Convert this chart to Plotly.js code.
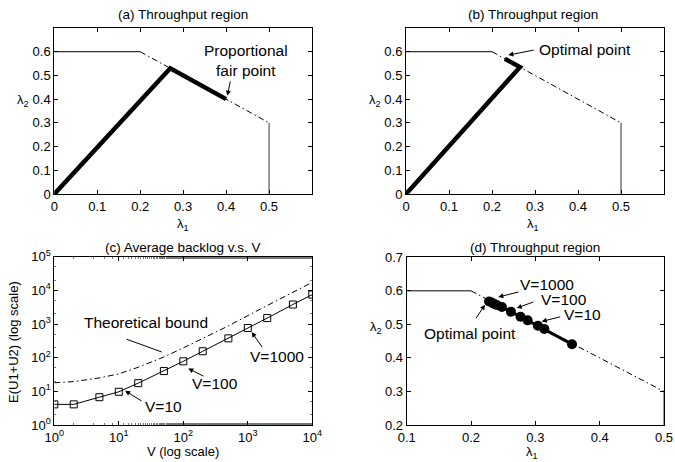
<!DOCTYPE html>
<html><head><meta charset="utf-8">
<script src="https://cdn.plot.ly/plotly-3.0.1.min.js"></script>
<style>html,body{margin:0;padding:0;background:#fff}#c{width:675px;height:462px}</style>
</head><body><div id="c"></div>
<script>
// Throughput region boundary
const boundSolidX = [0, 0.2], boundSolidY = [0.6, 0.6];
const boundDashX = [0.2, 0.5], boundDashY = [0.6, 0.3];
const boundVertX = [0.5, 0.5], boundVertY = [0.3, 0];
// (a) proportional fair path
const pathA_x = [0, 0.27, 0.4], pathA_y = [0, 0.53, 0.4];
// (b) optimal path
const pathB_x = [0, 0.265, 0.23], pathB_y = [0, 0.535, 0.57];
// (c) average backlog vs V
const V = [1, 2, 5, 10, 20, 50, 100, 200, 500, 1000, 2000, 5000, 10000];
const backlog = [4.1, 4.1, 6.7, 9.7, 17.5, 40, 78, 155, 375, 760, 1500, 3800, 7500];
const bound = [18, 19.5, 25, 33, 52, 105, 195, 370, 880, 1780, 3500, 8700, 17400];
// (d) throughput points for different V
const d_l1 = [0.228, 0.232, 0.236, 0.24, 0.248, 0.262, 0.277, 0.288, 0.304, 0.314, 0.357];
const d_l2 = [0.568, 0.565, 0.561, 0.558, 0.552, 0.538, 0.523, 0.512, 0.496, 0.486, 0.441];
const logTickVals = [1, 10, 100, 1000, 10000, 100000];
const logTickText = ['10<sup>0</sup>','10<sup>1</sup>','10<sup>2</sup>','10<sup>3</sup>','10<sup>4</sup>','10<sup>5</sup>'];

const DD = '6px,3px,1.5px,3px';
const F = '"Liberation Sans", Arial, Helvetica, sans-serif';

function boundTraces(xa, ya) {
  return [
    {x: boundSolidX, y: boundSolidY, xaxis: xa, yaxis: ya, mode: 'lines', line: {color: '#000', width: 1}},
    {x: boundDashX, y: boundDashY, xaxis: xa, yaxis: ya, mode: 'lines', line: {color: '#000', width: 1, dash: DD}},
    {x: boundVertX, y: boundVertY, xaxis: xa, yaxis: ya, mode: 'lines', line: {color: '#333', width: 1}}
  ];
}

const traces = [
  ...boundTraces('x', 'y'),
  {x: pathA_x, y: pathA_y, xaxis: 'x', yaxis: 'y', mode: 'lines', line: {color: '#000', width: 4.5}},
  ...boundTraces('x2', 'y2'),
  {x: pathB_x, y: pathB_y, xaxis: 'x2', yaxis: 'y2', mode: 'lines', line: {color: '#000', width: 4.5}},
  {x: V, y: bound, xaxis: 'x3', yaxis: 'y3', mode: 'lines', line: {color: '#000', width: 1, dash: DD}},
  {x: V, y: backlog, xaxis: 'x3', yaxis: 'y3', mode: 'lines+markers', line: {color: '#000', width: 1},
   marker: {symbol: 'square-open', size: 7, color: '#000', line: {width: 1}}},
  ...boundTraces('x4', 'y4'),
  {x: d_l1, y: d_l2, xaxis: 'x4', yaxis: 'y4', mode: 'lines+markers', line: {color: '#000', width: 3},
   marker: {symbol: 'circle', size: 10, color: '#000'}}
];

const W = 675, H = 462;
const px = v => v / W, py = v => 1 - v / H;

function ax(extra) {
  return Object.assign({
    showline: true, linecolor: '#000', linewidth: 1, mirror: 'ticks',
    ticks: 'inside', ticklen: 4, tickcolor: '#000', tickwidth: 1,
    showgrid: false, zeroline: false, fixedrange: true,
    tickfont: {family: F, size: 13, color: '#000'}
  }, extra);
}

const lin06 = [0, 0.1, 0.2, 0.3, 0.4, 0.5, 0.6];
const lin05 = [0, 0.1, 0.2, 0.3, 0.4, 0.5];
const minorLog = {ticks: 'inside', ticklen: 2, tickcolor: '#777', showgrid: false};

const layout = {
  width: W, height: H, showlegend: false,
  margin: {l: 0, r: 0, t: 0, b: 0},
  paper_bgcolor: '#fff', plot_bgcolor: '#fff',
  font: {family: F, color: '#000'},
  xaxis: ax({domain: [px(54.3), px(312)], anchor: 'y', range: [0, 0.6], tickvals: lin05, ticktext: ['0','0.1','0.2','0.3','0.4','0.5']}),
  yaxis: ax({domain: [py(194), py(28)], anchor: 'x', range: [0, 0.7], tickvals: lin06, ticktext: ['0','0.1','0.2','0.3','0.4','0.5','0.6']}),
  xaxis2: ax({domain: [px(406), px(664)], anchor: 'y2', range: [0, 0.6], tickvals: lin05, ticktext: ['0','0.1','0.2','0.3','0.4','0.5']}),
  yaxis2: ax({domain: [py(194), py(28)], anchor: 'x2', range: [0, 0.7], tickvals: lin06, ticktext: ['0','0.1','0.2','0.3','0.4','0.5','0.6']}),
  xaxis3: ax({domain: [px(54.3), px(312.3)], anchor: 'y3', type: 'log', range: [0, 4], tickvals: logTickVals.slice(0, 5), ticktext: logTickText.slice(0, 5), minor: minorLog}),
  yaxis3: ax({domain: [py(425), py(256.7)], anchor: 'x3', type: 'log', range: [0, 5], tickvals: logTickVals, ticktext: logTickText, minor: minorLog}),
  xaxis4: ax({domain: [px(406.7), px(664)], anchor: 'y4', range: [0.1, 0.5], tickvals: [0.1, 0.2, 0.3, 0.4, 0.5], ticktext: ['0.1','0.2','0.3','0.4','0.5']}),
  yaxis4: ax({domain: [py(425), py(257.3)], anchor: 'x4', range: [0.2, 0.7], tickvals: [0.2, 0.3, 0.4, 0.5, 0.6, 0.7], ticktext: ['0.2','0.3','0.4','0.5','0.6','0.7']}),
  annotations: []
};

const A = layout.annotations;
function label(text, x, y, size, extra) {
  A.push(Object.assign({xref: 'paper', yref: 'paper', x: px(x), y: py(y), text: text, showarrow: false,
    xanchor: 'center', yanchor: 'middle', borderpad: 0, font: {family: F, size: size, color: '#000'}}, extra || {}));
}
function dtext(text, xr, yr, x, y, size) {
  A.push({xref: xr, yref: yr, x: x, y: y, text: text, showarrow: false, xanchor: 'center', yanchor: 'middle',
    font: {family: F, size: size || 15.5, color: '#000'}});
}
function arrow(xr, yr, x, y, tx, ty, head) {
  A.push({xref: xr, yref: yr, x: x, y: y, axref: xr, ayref: yr, ax: tx, ay: ty, text: '', showarrow: true,
    arrowhead: head === undefined ? 2 : head, arrowsize: 1, arrowwidth: 1, arrowcolor: '#000', standoff: 0, startstandoff: 0});
}

// panel titles
label('(a) Throughput region', 183, 15, 13.5);
label('(b) Throughput region', 533, 15, 13.5);
label('(c) Average backlog v.s. V', 183, 247, 13.5);
label('(d) Throughput region', 535, 247, 13.5);
// axis titles
label('λ<sub>1</sub>', 183, 224, 13);
label('λ<sub>1</sub>', 533, 224, 13);
label('V (log scale)', 183, 451, 13);
label('λ<sub>1</sub>', 532, 452, 13);
label('λ<sub>2</sub>', 23, 100, 13);
label('λ<sub>2</sub>', 375, 100, 13);
label('λ<sub>2</sub>', 376, 327, 13);
label('E(U1+U2) (log scale)', 13, 342, 13, {textangle: -90});

// (a)
dtext('Proportional<br>fair point', 'x', 'y', 0.4456, 0.565);
arrow('x', 'y', pathA_x[2] + 0.003, pathA_y[2] + 0.015, 0.4105, 0.481);
// (b)
dtext('Optimal point', 'x2', 'y2', 0.417, 0.6105);
arrow('x2', 'y2', 0.238, 0.586, 0.3004, 0.608);
// (c) (log axes: coordinates in log10 units)
dtext('Theoretical bound', 'x3', 'y3', 1.423, 3.056);
arrow('x3', 'y3', 1.665, 2.169, 1.098, 2.565, 0);
dtext('V=10', 'x3', 'y3', 1.69, 0.541);
arrow('x3', 'y3', 1.098, 1.015, 1.375, 0.689);
dtext('V=100', 'x3', 'y3', 2.491, 1.234);
arrow('x3', 'y3', 2.078, 1.678, 2.336, 1.429);
dtext('V=1000', 'x3', 'y3', 3.448, 2.021);
arrow('x3', 'y3', 3.060, 2.760, 3.240, 2.269);
// (d)
dtext('V=1000', 'x4', 'y4', 0.3176, 0.6184);
arrow('x4', 'y4', 0.2424, 0.5817, 0.2761, 0.5975);
dtext('V=100', 'x4', 'y4', 0.344, 0.5736);
arrow('x4', 'y4', 0.271, 0.5488, 0.2994, 0.5685);
dtext('V=10', 'x4', 'y4', 0.374, 0.5288);
arrow('x4', 'y4', 0.31, 0.5087, 0.341, 0.5237);
dtext('Optimal point', 'x4', 'y4', 0.1989, 0.474);
arrow('x4', 'y4', 0.2217, 0.5586, 0.2062, 0.5138);

Plotly.newPlot('c', traces, layout, {displayModeBar: false, staticPlot: true});
</script></body></html>
